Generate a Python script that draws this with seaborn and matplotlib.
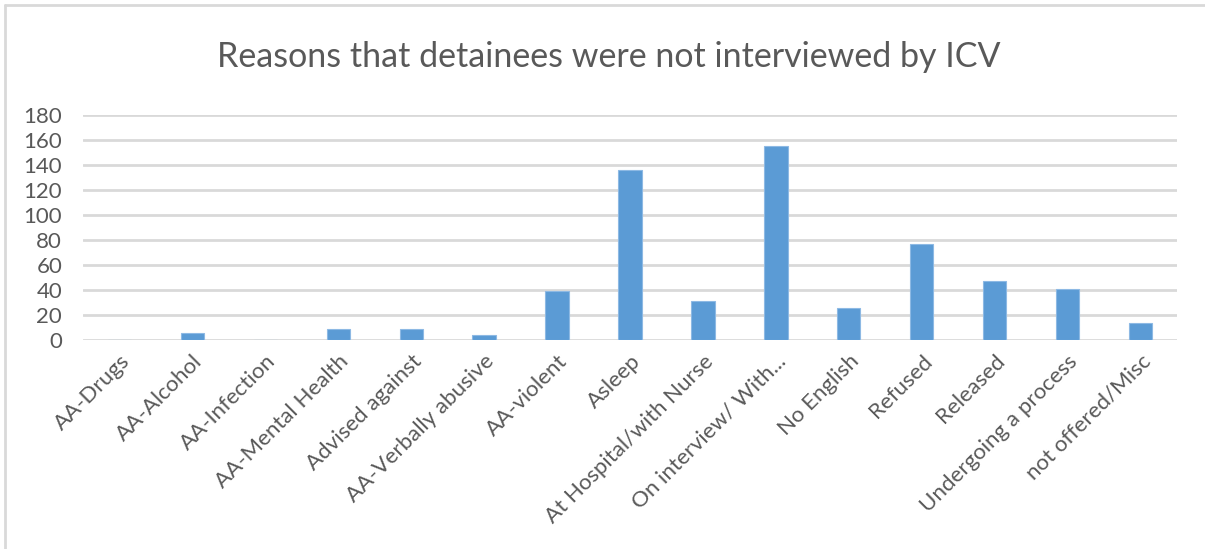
import matplotlib
matplotlib.use('Agg')
import matplotlib.pyplot as plt
from matplotlib.lines import Line2D
import seaborn as sns
import pandas as pd

# values
reasons = ['AA-Drugs', 'AA-Alcohol', 'AA-Infection', 'AA-Mental Health',
           'Advised against', 'AA-Verbally abusive', 'AA-violent', 'Asleep',
           'At Hospital/with Nurse', 'On interview/ With...', 'No English',
           'Refused', 'Released', 'Undergoing a process', 'not offered/Misc']
counts = [0, 6, 0, 9, 9, 4, 39, 136, 31, 155, 26, 77, 47, 41, 14]
yticks = [0, 20, 40, 60, 80, 100, 120, 140, 160, 180]

df = pd.DataFrame({'reason': reasons, 'count': counts})

sns.set_style('white')
plt.rcParams['font.family'] = ['Lato', 'DejaVu Sans']

W, H = 1205, 549
fig = plt.figure(figsize=(W / 100, H / 100), dpi=100)
ax = fig.add_axes([83 / W, 1 - 340 / H, (1177 - 83) / W, 225 / H])

sns.barplot(data=df, x='reason', y='count', color='#5B9BD5', width=0.32,
            edgecolor='#8DB9E4', linewidth=0.8, saturation=1, ax=ax, zorder=3)

ax.set_ylim(0, 180)
ax.set_xlim(-0.5, len(reasons) - 0.5)
ax.set_yticks(yticks)
for y in yticks:
    ax.axhline(y, color='#D9D9D9', lw=2, zorder=1)
for s in ax.spines.values():
    s.set_visible(False)
ax.tick_params(axis='y', length=0, labelsize=16, labelcolor='#595959', pad=15)
ax.tick_params(axis='x', length=0, labelsize=16, labelcolor='#595959', pad=8)
ax.set_xticks(range(len(reasons)))
ax.set_xticklabels(reasons, rotation=45, ha='right', rotation_mode='anchor')
ax.set_xlabel('')
ax.set_ylabel('')

fig.text(609 / W, 1 - 57 / H, 'Reasons that detainees were not interviewed by ICV',
         ha='center', va='center', fontsize=24.5, color='#595959')

# chart area border (top and left visible in the reference)
fig.add_artist(Line2D([5 / W, 1], [1 - 5 / H, 1 - 5 / H], color='#D9D9D9', lw=2,
                      transform=fig.transFigure))
fig.add_artist(Line2D([5 / W, 5 / W], [0, 1 - 5 / H], color='#D9D9D9', lw=2,
                      transform=fig.transFigure))

fig.savefig('out.png', dpi=100)
